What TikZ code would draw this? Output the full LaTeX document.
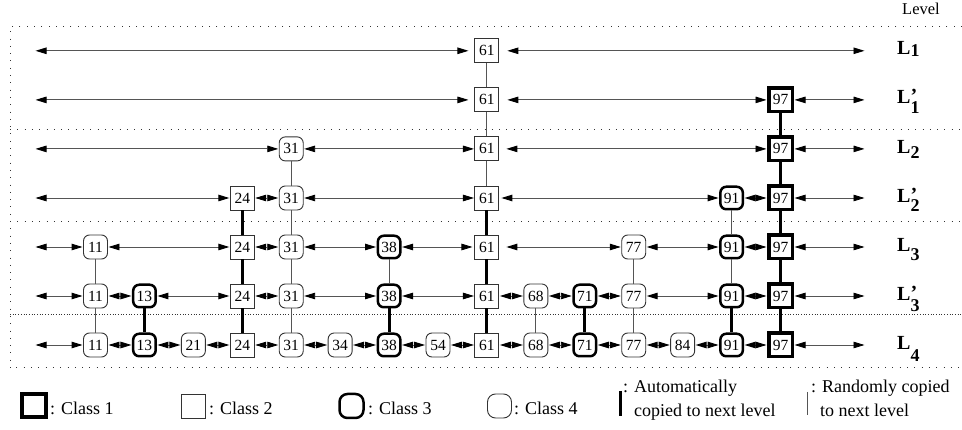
\documentclass[tikz,border=0pt]{standalone}
\usepackage{fontspec}
\setmainfont{Liberation Serif}
\usetikzlibrary{arrows.meta}

\newcommand\numfont{\fontsize{15.5}{16}\selectfont}
\newcommand\legfont{\fontsize{18}{20}\selectfont}
% level names: L with a lowered subscript, optionally primed
\newcommand\Lsub[2]{\textbf{L\raisebox{-#1pt}{\fontsize{18}{18}\selectfont\bfseries #2}}}
\newcommand\Lpsub[2]{\textbf{L\rlap{\raisebox{1pt}{’}}\raisebox{-#1pt}{\fontsize{18}{18}\selectfont\bfseries #2}}}

\definecolor{linegray}{HTML}{555555}
\definecolor{boxgray}{HTML}{333333}

\tikzset{
  >={Triangle[length=11pt,width=6.5pt,color=black]},
  base/.style={inner sep=0pt, fill=white, font=\numfont, text=black},
  c1/.style={base, draw=black, line width=3.5pt, minimum size=23.5pt},
  c2/.style={base, draw=boxgray, line width=0.9pt, minimum size=24pt},
  c3/.style={base, draw=black, line width=2.5pt, minimum size=22.5pt, rounded corners=6pt},
  c4/.style={base, draw=boxgray, line width=0.9pt, minimum size=24pt, rounded corners=6pt},
  % class of every key value
  k11/.style=c4, k13/.style=c3, k21/.style=c4, k24/.style=c2, k31/.style=c4,
  k34/.style=c4, k38/.style=c3, k54/.style=c4, k61/.style=c2, k68/.style=c4,
  k71/.style=c3, k77/.style=c4, k84/.style=c4, k91/.style=c3, k97/.style=c1,
  harrow/.style={draw=linegray, line width=0.9pt, <->, shorten <=0.5pt, shorten >=0.5pt},
  % links whose tips stop short of the key
  s1-lft-61/.style={shorten >=6pt}, s1-61-rgt/.style={shorten <=8pt},
  s2-lft-61/.style={shorten >=6pt}, s2-61-97/.style={shorten <=8pt},
  s3-61-97/.style={shorten <=7pt},  s4-61-91/.style={shorten <=2pt},
  s5-38-61/.style={shorten >=2pt},  s5-61-77/.style={shorten <=7pt},
  randcopy/.style={draw=linegray, line width=0.9pt},
  autocopy/.style={draw=black, line width=3pt},
  sparsedot/.style={draw=black!80, line width=1pt, dash pattern=on 1pt off 6.3pt},
  densedot/.style={draw=black!80, line width=0.8pt, dash pattern=on 0.8pt off 1.9pt},
  lvl/.style={anchor=base west, inner sep=0pt, font=\fontsize{20}{20}\selectfont},
  legtext/.style={anchor=base west, inner sep=0pt, font=\legfont},
}

% one level: its nodes and the arrows linking them, end to end
\newcommand\drawrow[3]{%
  \coordinate (n#1-lft) at (35,#2);
  \coordinate (n#1-rgt) at (865,#2);
  \foreach \iv/\nv in {#3}
    \node[k\nv] (n#1-\nv) at ({95.5+48.93*\iv},#2) {\nv};
  \foreach \iv/\nv [remember=\nv as \pv (initially lft)] in {#3,0/rgt}
    \draw[harrow, s#1-\pv-\nv/.try] (n#1-\pv) -- (n#1-\nv);
}

\begin{document}
\begin{tikzpicture}[x=1pt,y=-1pt]
\useasboundingbox (0,0) rectangle (962,430);

% frame and level separators
\draw[sparsedot] (962,27) -- (10,27) -- (10,368) -- (962,368);
\draw[sparsedot] (10,130) -- (962,130);
\draw[sparsedot] (10,222) -- (962,222);
\draw[densedot] (10,314) -- (962,314);

\node[anchor=base west, inner sep=0pt, font=\fontsize{16.5}{16.5}\selectfont] (levelhdr) at (902,15) {Level};

\drawrow{1}{50.8}{8/61}
\drawrow{2}{99.9}{8/61, 14/97}
\drawrow{3}{148.9}{4/31, 8/61, 14/97}
\drawrow{4}{198}{3/24, 4/31, 8/61, 13/91, 14/97}
\drawrow{5}{247}{0/11, 3/24, 4/31, 6/38, 8/61, 11/77, 13/91, 14/97}
\drawrow{6}{296}{0/11, 1/13, 3/24, 4/31, 6/38, 8/61, 9/68, 10/71, 11/77, 13/91, 14/97}
\drawrow{7}{345}{0/11, 1/13, 2/21, 3/24, 4/31, 5/34, 6/38, 7/54, 8/61, 9/68, 10/71, 11/77, 12/84, 13/91, 14/97}

% randomly copied keys
\foreach \nv/\a/\b in {61/1/2, 61/2/3, 61/3/4, 31/3/4, 31/4/5, 31/5/6, 31/6/7,
    91/4/5, 91/5/6, 11/5/6, 11/6/7, 38/5/6, 68/6/7, 77/5/6, 77/6/7}
  \draw[randcopy] (n\a-\nv) -- (n\b-\nv);
% automatically copied keys
\foreach \nv/\a/\b in {61/4/5, 61/5/6, 61/6/7, 97/2/3, 97/3/4, 97/4/5, 97/5/6, 97/6/7,
    24/4/5, 24/5/6, 24/6/7, 91/6/7, 38/6/7, 13/6/7, 71/6/7}
  \draw[autocopy] (n\a-\nv) -- (n\b-\nv);

% level names
\node[lvl] (L1) at (897,55) {\Lsub{2}{1}};
\node[lvl] (L1p) at (897,104) {\Lpsub{10}{1}};
\node[lvl] (L2) at (897,154) {\Lsub{5}{2}};
\node[lvl] (L2p) at (897,203) {\Lpsub{9}{2}};
\node[lvl] (L3) at (897,252) {\Lsub{9}{3}};
\node[lvl] (L3p) at (897,301) {\Lpsub{11}{3}};
\node[lvl] (L4) at (897,350) {\Lsub{12}{4}};

% legend
\node[c1, line width=4pt] (lg1) at (34,405.5) {};
\node[legtext] (lt1) at (50,415) {: Class 1};
\node[c2] (lg2) at (193,406) {};
\node[legtext] (lt2) at (209,415) {: Class 2};
\node[c3, rounded corners=8pt, minimum size=24pt] (lg3) at (351.5,406) {};
\node[legtext] (lt3) at (368,415) {: Class 3};
\node[c4, rounded corners=8pt] (lg4) at (499.5,406) {};
\node[legtext] (lt4) at (514,415) {: Class 4};

\draw[autocopy] (620,391) -- (620,416);
\node[legtext] (lt5) at (623,393) {: Automatically};
\node[legtext] (lt5b) at (634,417) {copied to next level};
\draw[randcopy] (807,392) -- (807,415);
\node[legtext] (lt6) at (811,393) {: Randomly copied};
\node[legtext] (lt6b) at (820,417) {to next level};
\end{tikzpicture}
\end{document}
